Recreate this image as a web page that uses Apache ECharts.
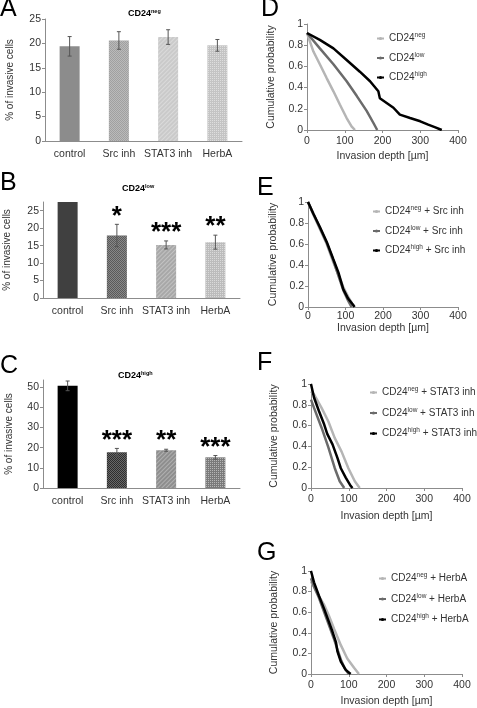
<!DOCTYPE html>
<html><head><meta charset="utf-8">
<script src="https://cdn.jsdelivr.net/npm/echarts@6/dist/echarts.min.js"></script>
<style>html,body{margin:0;padding:0;background:#fff}#c{width:477px;height:708px}</style>
</head><body><div id="c"></div>
<script>
// ---------- DATA ----------
const categories = ['control', 'Src inh', 'STAT3 inh', 'HerbA'];

const negMean = [19.4, 20.6, 21.3, 19.6];
const negErr  = [2.0, 1.8, 1.5, 1.2];
const negSig  = ['', '', '', ''];

const lowMean = [27.5, 17.9, 15.2, 16.0];
const lowErr  = [0, 3.2, 1.15, 2.0];
const lowSig  = ['', '*', '***', '**'];

const highMean = [50.6, 17.7, 18.7, 15.2];
const highErr  = [2.4, 1.9, 0.5, 0.9];
const highSig  = ['', '***', '**', '***'];

const yTicksA = [0, 5, 10, 15, 20, 25];
const yTicksB = [0, 5, 10, 15, 20, 25];
const yTicksC = [0, 10, 20, 30, 40, 50];
const yMaxB = 27.5;
const yMaxC = 53.5;

const xTicksDepth = [0, 100, 200, 300, 400];
const yTicksProb = [0, 0.2, 0.4, 0.6, 0.8, 1];

// cumulative probability curves [depth µm, probability]
const D_neg  = [[0,0.915],[17,0.74],[34,0.62],[52,0.49],[70,0.365],[87,0.24],[105,0.113],[118,0.035],[127,0]];
const D_low  = [[0,0.915],[34,0.77],[70,0.62],[105,0.46],[132,0.32],[158,0.18],[176,0.066],[186,0]];
const D_high = [[0,0.915],[34,0.85],[70,0.77],[105,0.66],[140,0.55],[167,0.46],[189,0.365],[193,0.30],[211,0.255],[229,0.21],[246,0.145],[273,0.113],[300,0.082],[321,0.05],[340,0.025],[357,0]];

const E_neg  = [[0,1],[14,0.88],[32,0.74],[50,0.6],[67,0.43],[81,0.31],[94,0.19],[107,0.1],[118,0.03],[124,0]];
const E_low  = [[0,1],[14,0.89],[32,0.75],[50,0.61],[67,0.45],[81,0.3],[94,0.16],[107,0.06],[116,0]];
const E_high = [[0,1],[14,0.89],[32,0.76],[50,0.62],[67,0.46],[81,0.33],[94,0.17],[107,0.08],[121,0.016],[124,0]];

const F_neg  = [[0,0.93],[8,0.9],[28,0.77],[46,0.64],[63,0.48],[81,0.35],[99,0.19],[116,0.065],[129,0]];
const F_low  = [[0,0.85],[8,0.77],[28,0.58],[46,0.39],[63,0.19],[76,0.065],[88,0]];
const F_high = [[0,1],[8,0.87],[21,0.74],[35,0.61],[43,0.52],[57,0.42],[70,0.29],[79,0.19],[92,0.1],[105,0.02],[110,0]];

const G_neg  = [[0,0.9],[17,0.78],[35,0.67],[48,0.56],[61,0.44],[79,0.28],[96,0.15],[114,0.06],[127,0]];
const G_low  = [[0,0.93],[8,0.85],[21,0.74],[35,0.6],[48,0.47],[60,0.35],[70,0.24],[80,0.13],[90,0.05],[100,0]];
const G_high = [[0,1],[8,0.89],[21,0.76],[35,0.63],[48,0.5],[57,0.41],[66,0.31],[70,0.22],[79,0.12],[92,0.04],[105,0]];

const namesD = ['CD24neg', 'CD24low', 'CD24high'];
const namesE = ['CD24neg + Src inh', 'CD24low + Src inh', 'CD24high + Src inh'];
const namesF = ['CD24neg + STAT3 inh', 'CD24low + STAT3 inh', 'CD24high + STAT3 inh'];
const namesG = ['CD24neg + HerbA', 'CD24low + HerbA', 'CD24high + HerbA'];

// ---------- STYLE ----------
const FONT = '"Liberation Sans", Arial, sans-serif';
const TXT = '#333';
const AX = '#8c8c8c';
const lineColors = ['#b5b5b5', '#6b6b6b', '#000000'];
const barColors = [
  ['#8c8c8c', '#a0a0a0', '#cacaca', '#c4c4c4'],
  ['#404040', '#5a5a5a', '#a8a8a8', '#bcbcbc'],
  ['#000000', '#2e2e2e', '#8e8e8e', '#7a7a7a']
];
const decals = [
  null,
  {symbol: 'rect', symbolSize: 1, dashArrayX: [[1, 1], [0, 1, 1, 0]], dashArrayY: [1, 0], color: 'rgba(255,255,255,0.28)'},
  {symbol: 'rect', symbolSize: 1, rotation: -Math.PI / 4, dashArrayX: [1, 0], dashArrayY: [1, 2], color: 'rgba(255,255,255,0.3)'},
  {symbol: 'rect', symbolSize: 1, dashArrayX: [1, 1], dashArrayY: [1, 1], color: 'rgba(255,255,255,0.45)'}
];

const grids = [
  {left: 45, top: 19, width: 197, height: 122},
  {left: 43, top: 202, width: 197, height: 96},
  {left: 43, top: 380, width: 197, height: 108},
  {left: 307, top: 24, width: 151, height: 106},
  {left: 308, top: 202, width: 150, height: 105},
  {left: 311, top: 384, width: 151, height: 104},
  {left: 311, top: 571, width: 151, height: 103}
].map(g => Object.assign({outerBoundsMode: 'none', containLabel: false}, g));

const xAxes = [], yAxes = [], series = [];

function barPanel(gi, means, errs, sigs, yTicks, yMax, nameGap) {
  xAxes.push({
    type: 'category', gridIndex: gi, data: categories,
    axisLine: {lineStyle: {color: AX}},
    axisTick: {length: 4, lineStyle: {color: AX}},
    axisLabel: {color: TXT, fontSize: 10.5, fontFamily: FONT, margin: 8, interval: 0}
  });
  yAxes.push({
    type: 'value', gridIndex: gi, min: yTicks[0], max: yMax, interval: yTicks[1] - yTicks[0],
    axisLine: {show: true, lineStyle: {color: AX}},
    axisTick: {show: true, length: 3, lineStyle: {color: AX}},
    splitLine: {show: false},
    axisLabel: {color: TXT, fontSize: 10.5, fontFamily: FONT, margin: 4, showMaxLabel: yMax === yTicks[yTicks.length - 1]},
    name: '% of invasive cells', nameLocation: 'middle', nameGap: nameGap,
    nameTextStyle: {color: TXT, fontSize: 10, fontFamily: FONT}
  });
  const cols = barColors[gi];
  series.push({
    type: 'bar', xAxisIndex: gi, yAxisIndex: gi, barWidth: 20,
    data: means.map((m, i) => ({value: m, itemStyle: {color: cols[i], decal: decals[i]}})),
    silent: true
  });
  series.push({
    type: 'custom', xAxisIndex: gi, yAxisIndex: gi, z: 5, silent: true,
    data: means.map((m, i) => [i, m, errs[i]]),
    renderItem: function (params, api) {
      const i = api.value(0), m = api.value(1), e = api.value(2);
      const children = [];
      const top = api.coord([i, m + e]);
      const bot = api.coord([i, m - e]);
      if (e > 0) {
        const st = {stroke: '#555', lineWidth: 1};
        children.push({type: 'line', shape: {x1: top[0], y1: top[1], x2: bot[0], y2: bot[1]}, style: st});
        children.push({type: 'line', shape: {x1: top[0] - 2, y1: top[1], x2: top[0] + 2, y2: top[1]}, style: st});
        children.push({type: 'line', shape: {x1: bot[0] - 2, y1: bot[1], x2: bot[0] + 2, y2: bot[1]}, style: st});
      }
      const s = sigs[params.dataIndex];
      if (s) {
        children.push({type: 'text', style: {text: s, x: top[0], y: top[1] - 8, align: 'center', verticalAlign: 'middle',
          fontSize: 26, fontWeight: 'bold', fontFamily: FONT, fill: '#000'}});
      }
      return {type: 'group', children: children};
    }
  });
}

function linePanel(gi, curves, names, xNameGap, xLabelMargin, yNameGap) {
  xAxes.push({
    type: 'value', gridIndex: gi, min: xTicksDepth[0], max: xTicksDepth[xTicksDepth.length - 1],
    interval: xTicksDepth[1] - xTicksDepth[0],
    axisLine: {lineStyle: {color: AX}}, axisTick: {length: 3, lineStyle: {color: AX}},
    splitLine: {show: false},
    axisLabel: {color: TXT, fontSize: 10.5, fontFamily: FONT, margin: xLabelMargin},
    name: 'Invasion depth [µm]', nameLocation: 'middle', nameGap: xNameGap,
    nameTextStyle: {color: TXT, fontSize: 10.5, fontFamily: FONT}
  });
  yAxes.push({
    type: 'value', gridIndex: gi, min: yTicksProb[0], max: yTicksProb[yTicksProb.length - 1],
    interval: yTicksProb[1] - yTicksProb[0],
    axisLine: {show: true, lineStyle: {color: AX}}, axisTick: {show: true, length: 3, lineStyle: {color: AX}},
    splitLine: {show: false},
    axisLabel: {color: TXT, fontSize: 10.5, fontFamily: FONT, margin: 4},
    name: 'Cumulative probability', nameLocation: 'middle', nameGap: yNameGap,
    nameTextStyle: {color: TXT, fontSize: 10.5, fontFamily: FONT}
  });
  curves.forEach((c, k) => {
    series.push({
      type: 'line', name: names[k], xAxisIndex: gi, yAxisIndex: gi, data: c,
      symbol: 'circle', symbolSize: 3, showSymbol: false, silent: true,
      lineStyle: {color: lineColors[k], width: 2.5}, itemStyle: {color: lineColors[k]}, z: 2 + k
    });
  });
}

barPanel(0, negMean, negErr, negSig, yTicksA, yTicksA[yTicksA.length - 1], 30);
barPanel(1, lowMean, lowErr, lowSig, yTicksB, yMaxB, 31);
barPanel(2, highMean, highErr, highSig, yTicksC, yMaxC, 29);
linePanel(3, [D_neg, D_low, D_high], namesD, 21, 6, 30);
linePanel(4, [E_neg, E_low, E_high], namesE, 13, 4, 29);
linePanel(5, [F_neg, F_low, F_high], namesF, 23, 6, 31);
linePanel(6, [G_neg, G_low, G_high], namesG, 22, 6, 31);

const rich = {
  a: {fontSize: 10, fontFamily: FONT, color: TXT, lineHeight: 13},
  s: {fontSize: 6.5, fontFamily: FONT, color: TXT, lineHeight: 13, verticalAlign: 'top'}
};
function supFmt(name) {
  return name.replace(/^CD24(neg|low|high)(.*)$/, (m, p, rest) => '{a|CD24}{s|' + p + '}' + (rest ? '{a|' + rest + '}' : ''));
}
function legend(names, left, top, gap) {
  return {orient: 'vertical', left: left, top: top, padding: 0, itemWidth: 7, itemHeight: 4, itemGap: gap,
    selectedMode: false, data: names, formatter: supFmt, textStyle: {rich: rich}};
}

const titleRich = {
  a: {fontSize: 9, fontWeight: 'bold', fontFamily: FONT, color: '#000', lineHeight: 12},
  s: {fontSize: 5.5, fontWeight: 'bold', fontFamily: FONT, color: '#000', lineHeight: 12, verticalAlign: 'top'}
};
function letter(t, left, top) {
  return {text: t, left: left, top: top, padding: 0, textStyle: {fontSize: 25, fontWeight: 'normal', fontFamily: FONT, color: '#000'}};
}
function sub(t, left, top) {
  return {text: supFmt(t), left: left, top: top, padding: 0, textStyle: {rich: titleRich}};
}

const option = {
  animation: false,
  backgroundColor: '#fff',
  title: [
    letter('A', 0, -3), letter('B', 0, 171), letter('C', 0, 354),
    letter('D', 261, -3), letter('E', 257, 176), letter('F', 257, 351), letter('G', 257, 541),
    sub('CD24neg', 128, 8), sub('CD24low', 122, 183), sub('CD24high', 118, 370)
  ],
  legend: [
    legend(namesD, 376, 32, 8),
    legend(namesE, 372, 205, 8),
    legend(namesF, 369, 386, 9),
    legend(namesG, 378, 572, 9)
  ],
  grid: grids,
  xAxis: xAxes,
  yAxis: yAxes,
  series: series
};

const chart = echarts.init(document.getElementById('c'), null, {renderer: 'canvas'});
chart.setOption(option);
</script>
</body></html>
